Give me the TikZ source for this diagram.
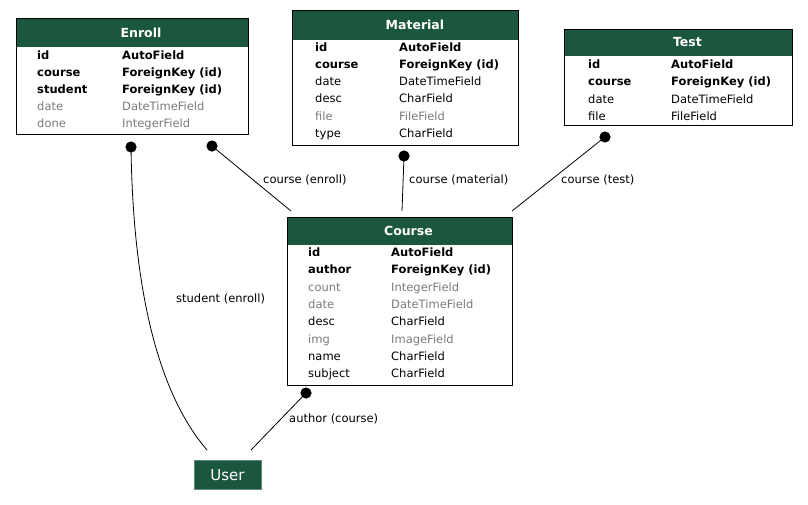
\documentclass[tikz,border=0pt]{standalone}
\usepackage{fontspec}
\setmainfont{DejaVu Sans}
\usetikzlibrary{calc}
\definecolor{hdrgreen}{HTML}{1B563F}
\definecolor{optgray}{HTML}{7B7B7B}
\tikzset{
  tbl/.style={draw=black, line width=0.9pt, fill=white, inner sep=0, anchor=north west},
  hdr/.style={fill=hdrgreen},
  ttl/.style={text=white, font=\fontsize{12.5}{14}\selectfont\bfseries, inner sep=0},
  fld/.style={font=\fontsize{11.5}{13}\selectfont, anchor=base west, inner sep=0},
  key/.style={fld, font=\fontsize{11.5}{13}\selectfont\bfseries},
  opt/.style={fld, text=optgray},
  lbl/.style={font=\fontsize{11.5}{13}\selectfont, anchor=base west, inner sep=0},
  rel/.style={line width=0.8pt, black},
  enddot/.style={fill=black},
  usr/.style={fill=hdrgreen, draw=hdrgreen!70!white, text=white, inner sep=0,
    minimum width=67pt, minimum height=29pt, font=\fontsize{15}{17}\selectfont},
}
\newcommand{\hdrbar}[2]{%
  \fill[hdr] ([shift={(1.2,1.2)}]#1.north west) rectangle ([shift={(-1.2,#2)}]#1.north east);}
\begin{document}
\begin{tikzpicture}[x=1pt,y=-1pt]
\useasboundingbox (0,0) rectangle (808,504);

% ---------- Enroll ----------
\node[tbl, minimum width=232pt, minimum height=116pt] (enroll) at (16,18) {};
\hdrbar{enroll}{29}
\node[ttl] at ($(enroll.north)+(8.5,14.5)$) {Enroll};
\node[key] at (37,59)  {id};      \node[key] at (122,59)  {AutoField};
\node[key] at (37,76)  {course};  \node[key] at (122,76)  {ForeignKey (id)};
\node[key] at (37,93)  {student}; \node[key] at (122,93)  {ForeignKey (id)};
\node[opt] at (37,110) {date};    \node[opt] at (122,110) {DateTimeField};
\node[opt] at (37,127) {done};    \node[opt] at (122,127) {IntegerField};

% ---------- Material ----------
\node[tbl, minimum width=226pt, minimum height=135pt] (material) at (292,10) {};
\hdrbar{material}{30}
\node[ttl] at ($(material.north)+(9.5,15)$) {Material};
\node[key] at (315,51)  {id};     \node[key] at (399,51)  {AutoField};
\node[key] at (315,68)  {course}; \node[key] at (399,68)  {ForeignKey (id)};
\node[fld] at (315,85)  {date};   \node[fld] at (399,85)  {DateTimeField};
\node[fld] at (315,102) {desc};   \node[fld] at (399,102) {CharField};
\node[opt] at (315,120) {file};   \node[opt] at (399,120) {FileField};
\node[fld] at (315,137) {type};   \node[fld] at (399,137) {CharField};

% ---------- Test ----------
\node[tbl, minimum width=228pt, minimum height=96pt] (test) at (564,29) {};
\hdrbar{test}{27}
\node[ttl] at ($(test.north)+(9,13)$) {Test};
\node[key] at (588,68)  {id};     \node[key] at (671,68)  {AutoField};
\node[key] at (588,85)  {course}; \node[key] at (671,85)  {ForeignKey (id)};
\node[fld] at (588,103) {date};   \node[fld] at (671,103) {DateTimeField};
\node[fld] at (588,120) {file};   \node[fld] at (671,120) {FileField};

% ---------- Course ----------
\node[tbl, minimum width=225pt, minimum height=168pt] (course) at (287,217) {};
\hdrbar{course}{28}
\node[ttl] at ($(course.north)+(8.5,13.5)$) {Course};
\node[key] at (308,256) {id};      \node[key] at (391,256) {AutoField};
\node[key] at (308,273) {author};  \node[key] at (391,273) {ForeignKey (id)};
\node[opt] at (308,291) {count};   \node[opt] at (391,291) {IntegerField};
\node[opt] at (308,308) {date};    \node[opt] at (391,308) {DateTimeField};
\node[fld] at (308,325) {desc};    \node[fld] at (391,325) {CharField};
\node[opt] at (308,343) {img};     \node[opt] at (391,343) {ImageField};
\node[fld] at (308,360) {name};    \node[fld] at (391,360) {CharField};
\node[fld] at (308,377) {subject}; \node[fld] at (391,377) {CharField};

% ---------- User ----------
\node[usr] (user) at (227.5,475) {User};

% ---------- relation end points ----------
\coordinate (enrollC) at (212,146);  \coordinate (courseE) at (291,211);
\coordinate (matC)    at (404,156);  \coordinate (courseM) at (402,211);
\coordinate (testC)   at (605,137);  \coordinate (courseT) at (512,211);
\coordinate (enrollS) at (131,147);  \coordinate (userS)   at (207,450);
\coordinate (courseA) at (306,393);  \coordinate (userA)   at (251,450);

% ---------- relations ----------
\draw[rel] (enrollC) -- (courseE);
\draw[rel] (matC) -- (courseM);
\draw[rel] (testC) -- (courseT);
\draw[rel] (enrollS) .. controls (133,290) and (158,393) .. (userS);
\draw[rel] (courseA) -- (userA);
\foreach \p in {enrollC,matC,testC,enrollS,courseA}
  \fill[enddot] (\p) circle (5.6pt);

% ---------- relation labels ----------
\node[lbl] at (263,183) {course (enroll)};
\node[lbl] at (409,183) {course (material)};
\node[lbl] at (561,183) {course (test)};
\node[lbl] at (176,302) {student (enroll)};
\node[lbl] at (289,422) {author (course)};
\end{tikzpicture}
\end{document}
